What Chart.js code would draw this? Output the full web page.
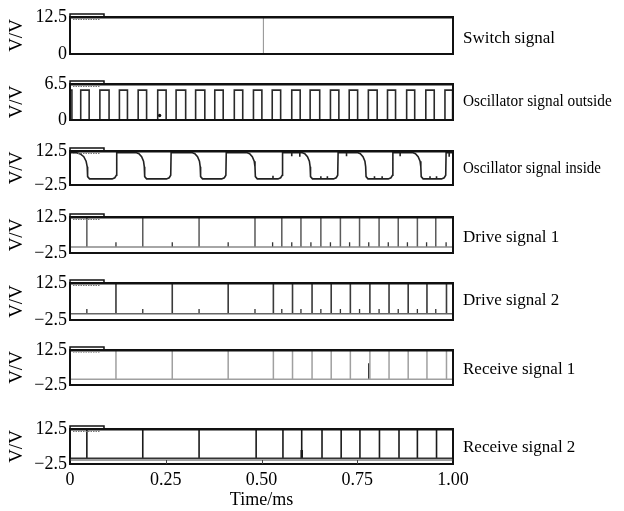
<!DOCTYPE html>
<html>
<head>
<meta charset="utf-8">
<script src="https://cdn.jsdelivr.net/npm/chart.js@4.4.0/dist/chart.umd.min.js"></script>
<style>
  html, body { margin: 0; padding: 0; background: #fff; }
  #wrap { position: relative; width: 624px; height: 511px; overflow: hidden; font-family: "Liberation Serif", serif; }
  #wrap canvas { position: absolute; left: 0; }
  .sig { position: absolute; left: 463px; font-size: 17px; line-height: 20px; color: #000; white-space: nowrap; transform-origin: left center; }
</style>
</head>
<body>
<div id="wrap"></div>
<script>
// ---- data (time in ms, level in V) ----
const signalNames = [
    'Switch signal',
    'Oscillator signal outside',
    'Oscillator signal inside',
    'Drive signal 1',
    'Drive signal 2',
    'Receive signal 1',
    'Receive signal 2'
];
const yMin = [0, 0, -2.5, -2.5, -2.5, -2.5, -2.5];
const yMax = [12.5, 6.5, 12.5, 12.5, 12.5, 12.5, 12.5];
const timeTicks = [0, 0.25, 0.5, 0.75, 1.0];

// switch signal
const switchLevel = [[0, 0], [0, 12.5], [1, 12.5]];
const switchGlitch = [[0.505, 0], [0.505, 12.5]];

// oscillator outside: square pulses
const oscOutRise = [0, 0.028, 0.078, 0.129, 0.178, 0.229, 0.277, 0.328, 0.378, 0.429, 0.479,
    0.528, 0.579, 0.627, 0.680, 0.729, 0.779, 0.829, 0.879, 0.929, 0.979];
const oscOutFall = [0.005, 0.050, 0.102, 0.150, 0.200, 0.251, 0.302, 0.352, 0.400, 0.451, 0.501,
    0.550, 0.601, 0.652, 0.702, 0.751, 0.802, 0.850, 0.900, 0.951, 0.999];
const oscOutHigh = 5.4;
const oscOutDot = [[0.234, 0.8]];

// oscillator inside: rounded falling edges, small spikes later on
const oscInside = [
    [0, 11.8], [0.015, 11.8], [0.027, 11.2], [0.036, 10.0], [0.042, 8.0], [0.045, 5.5], [0.046, 1.2], [0.051, 0.2],
    [0.110, 0.2], [0.117, 0.7], [0.121, 1.8], [0.122, 11.8],
    [0.172, 11.8], [0.180, 11.3], [0.187, 10.0], [0.192, 8.0], [0.194, 5.5], [0.195, 1.2], [0.200, 0.2],
    [0.252, 0.2], [0.259, 0.7], [0.263, 1.8], [0.264, 11.8],
    [0.318, 11.8], [0.326, 11.3], [0.333, 10.0], [0.338, 8.0], [0.340, 5.5], [0.341, 1.2], [0.346, 0.2],
    [0.396, 0.2], [0.403, 0.7], [0.407, 1.8], [0.408, 11.8],
    [0.461, 11.8], [0.469, 11.3], [0.476, 10.0], [0.481, 8.0], [0.483, 5.5], [0.484, 1.2], [0.489, 0.2],
    [0.530, 0.2], [0.530, 1.6], [0.530, 0.2],
    [0.543, 0.2], [0.550, 0.7], [0.554, 1.8], [0.555, 11.8],
    [0.579, 11.8], [0.579, 10.2], [0.579, 11.8], [0.600, 11.8], [0.600, 10.0], [0.600, 11.8],
    [0.605, 11.8], [0.613, 11.3], [0.620, 10.0], [0.625, 8.0], [0.627, 5.5], [0.628, 1.2], [0.633, 0.2],
    [0.655, 0.2], [0.655, 1.4], [0.655, 0.2], [0.672, 0.2], [0.672, 1.4], [0.672, 0.2],
    [0.688, 0.2], [0.695, 0.7], [0.699, 1.8], [0.700, 11.8],
    [0.722, 11.8], [0.722, 10.2], [0.722, 11.8],
    [0.750, 11.8], [0.758, 11.3], [0.765, 10.0], [0.770, 8.0], [0.772, 5.5], [0.773, 1.2], [0.778, 0.2],
    [0.795, 0.2], [0.795, 1.4], [0.795, 0.2], [0.815, 0.2], [0.815, 1.4], [0.815, 0.2],
    [0.831, 0.2], [0.838, 0.7], [0.842, 1.8], [0.843, 11.8],
    [0.862, 11.8], [0.862, 10.2], [0.862, 11.8],
    [0.894, 11.8], [0.902, 11.3], [0.909, 10.0], [0.914, 8.0], [0.916, 5.5], [0.917, 1.2], [0.922, 0.2],
    [0.940, 0.2], [0.940, 1.4], [0.940, 0.2], [0.957, 0.2], [0.957, 1.4], [0.957, 0.2],
    [0.970, 0.2], [0.977, 0.7], [0.981, 1.8], [0.982, 11.8],
    [0.990, 11.8], [0.990, 10.0], [0.990, 11.8], [1.0, 11.8]
];

// drive / receive pulse times
const drive1Tall = [0.044, 0.190, 0.337, 0.483, 0.553, 0.603, 0.655, 0.706, 0.756, 0.807, 0.857, 0.907, 0.955];
const drive1Small = [0.120, 0.267, 0.413, 0.529, 0.579, 0.629, 0.680, 0.730, 0.780, 0.831, 0.881, 0.931, 0.982];
const drive2Tall = [0.120, 0.267, 0.413, 0.531, 0.581, 0.632, 0.682, 0.732, 0.783, 0.833, 0.883, 0.932, 0.983];
const drive2Small = [0.044, 0.190, 0.337, 0.483, 0.553, 0.603, 0.655, 0.706, 0.756, 0.807, 0.857, 0.907, 0.955];
const receive1Tall = [0.120, 0.267, 0.413, 0.531, 0.581, 0.632, 0.682, 0.732, 0.783, 0.833, 0.883, 0.932, 0.983];
const receive1Mark = [[0.780, 0], [0.780, 6.8]];
const receive2Tall = [0.044, 0.190, 0.337, 0.486, 0.556, 0.605, 0.658, 0.708, 0.757, 0.808, 0.859, 0.907, 0.957];
const receive2Mark = [[0.605, 0], [0.605, 3.5]];
const pulseTop = 12.5;
const tickTop = 2;

// ---- layout of the stacked panels (page pixels) ----
const panelTop = [17, 84, 151, 217, 283, 350, 429];
const panelHeight = [37, 36, 34, 36, 37, 35, 35];
const labelY = [38, 101, 168, 237, 300, 369, 447];
const labelSqueeze = [1, 0.9, 0.88, 1, 1, 1, 1];

const FONT = 'Liberation Serif';
const INK = '#000';

function pts(pairs) {
    return pairs.map(p => ({ x: p[0], y: p[1] }));
}

function squareWave(rises, falls, high) {
    const out = [{ x: 0, y: 0 }];
    rises.forEach((r, i) => {
        out.push({ x: r, y: 0 }, { x: r, y: high }, { x: falls[i], y: high }, { x: falls[i], y: 0 });
    });
    out.push({ x: 1, y: 0 });
    return out;
}

// vertical spikes from the zero line, separated by gaps
function spikes(times, top) {
    const out = [];
    times.forEach(t => {
        out.push({ x: t, y: 0 }, { x: t, y: top }, { x: t, y: null });
    });
    return out;
}

function line(data, color, width) {
    return {
        data: data,
        borderColor: color,
        borderWidth: width || 1.5,
        pointRadius: 0,
        fill: false,
        tension: 0,
        clip: false
    };
}

const baseline = [{ x: 0, y: 0 }, { x: 1, y: 0 }];

const panelData = [
    [line(pts(switchLevel), '#111', 2), line(pts(switchGlitch), '#999', 1.1)],
    [line(squareWave(oscOutRise, oscOutFall, oscOutHigh), '#2a2a2a', 1.6),
     { type: 'scatter', data: pts(oscOutDot), pointRadius: 1.7, backgroundColor: '#111', borderWidth: 0 }],
    [line(pts(oscInside), '#222', 1.6)],
    [line(baseline, '#888', 1.5), line(spikes(drive1Tall, pulseTop), '#5a5a5a', 1.5), line(spikes(drive1Small, tickTop), '#333', 1.3)],
    [line(baseline, '#666', 1.5), line(spikes(drive2Tall, pulseTop), '#3a3a3a', 1.6), line(spikes(drive2Small, tickTop), '#333', 1.3)],
    [line(baseline, '#a0a0a0', 1.5), line(spikes(receive1Tall, pulseTop), '#a0a0a0', 1.5), line(pts(receive1Mark), '#333', 1.4)],
    [line(baseline, '#333', 1.5), line(spikes(receive2Tall, pulseTop), '#1a1a1a', 1.6), line(pts(receive2Mark), '#111', 2.5)]
];

// frame box, small label tab, and the inner time-axis strip on the last panel
const framePlugin = {
    id: 'frame',
    afterDatasetsDraw(chart, args, opts) {
        const { ctx, chartArea: a } = chart;
        ctx.save();
        ctx.strokeStyle = '#111';
        ctx.lineWidth = 2;
        ctx.strokeRect(a.left, a.top, a.right - a.left, a.bottom - a.top);
        // top edge is a bit heavier in the scope shot
        ctx.beginPath();
        ctx.moveTo(a.left, a.top + 0.5);
        ctx.lineTo(a.right, a.top + 0.5);
        ctx.stroke();
        ctx.lineWidth = 1.5;
        ctx.beginPath();
        ctx.moveTo(a.left, a.top);
        ctx.lineTo(a.left, a.top - 3);
        ctx.lineTo(a.left + 34, a.top - 3);
        ctx.lineTo(a.left + 34, a.top);
        ctx.stroke();
        ctx.setLineDash([1.5, 1]);
        ctx.lineWidth = 1.2;
        ctx.strokeStyle = opts.tabColor || '#888';
        ctx.beginPath();
        ctx.moveTo(a.left + 3, a.top + 2.5);
        ctx.lineTo(a.left + 30, a.top + 2.5);
        ctx.stroke();
        ctx.setLineDash([]);
        if (opts.axisStrip) {
            const x = chart.scales.x;
            const yStrip = a.bottom - 4;
            ctx.strokeStyle = '#444';
            ctx.lineWidth = 1;
            ctx.beginPath();
            ctx.moveTo(a.left, yStrip);
            ctx.lineTo(a.right, yStrip);
            timeTicks.slice(1, -1).forEach(v => {
                const px = Math.round(x.getPixelForValue(v)) + 0.5;
                ctx.moveTo(px, yStrip);
                ctx.lineTo(px, a.bottom);
            });
            ctx.stroke();
        }
        ctx.restore();
    }
};

function makePanel(i) {
    const last = i === signalNames.length - 1;
    const padTop = 14;
    const axisH = 47;
    const h = last ? padTop + panelHeight[i] + axisH : panelHeight[i] + 28;

    const canvas = document.createElement('canvas');
    canvas.width = 480;
    canvas.height = h;
    canvas.style.width = '480px';
    canvas.style.height = h + 'px';
    canvas.style.top = (panelTop[i] - padTop) + 'px';
    document.getElementById('wrap').appendChild(canvas);

    const label = document.createElement('div');
    label.className = 'sig';
    label.textContent = signalNames[i];
    label.style.top = (labelY[i] - 10) + 'px';
    label.style.transform = 'scaleX(' + labelSqueeze[i] + ')';
    document.getElementById('wrap').appendChild(label);

    new Chart(canvas.getContext('2d'), {
        type: 'line',
        data: { datasets: panelData[i] },
        options: {
            responsive: false,
            animation: false,
            devicePixelRatio: 1,
            layout: { padding: { left: 0, right: 27, top: padTop, bottom: last ? 0 : 14 } },
            plugins: {
                legend: { display: false },
                tooltip: { enabled: false },
                frame: { tabColor: i === 5 ? '#aaa' : '#777', axisStrip: last }
            },
            scales: {
                x: {
                    type: 'linear',
                    min: 0,
                    max: 1,
                    display: last,
                    grid: { display: false, drawTicks: false },
                    border: { display: false },
                    afterBuildTicks: axis => { axis.ticks = timeTicks.map(v => ({ value: v })); },
                    afterFit: scale => { if (last) scale.height = axisH; },
                    ticks: {
                        padding: 5,
                        autoSkip: false,
                        maxRotation: 0,
                        color: INK,
                        font: { family: FONT, size: 18 },
                        callback: v => v === 0 ? '0' : v.toFixed(2)
                    },
                    title: {
                        display: true,
                        text: 'Time/ms',
                        color: INK,
                        font: { family: FONT, size: 18 },
                        padding: { top: 0, bottom: 0 }
                    }
                },
                y: {
                    min: yMin[i],
                    max: yMax[i],
                    grid: { display: false, drawTicks: false },
                    border: { display: false },
                    afterBuildTicks: axis => { axis.ticks = [{ value: yMin[i] }, { value: yMax[i] }]; },
                    afterFit: scale => { scale.width = 70; },
                    ticks: {
                        padding: 3,
                        color: INK,
                        font: { family: FONT, size: 18 },
                        callback: v => v < 0 ? '\u2212' + Math.abs(v) : String(v)
                    },
                    title: {
                        display: true,
                        text: 'V/V',
                        color: INK,
                        font: { family: FONT, size: 19 },
                        padding: { top: 6, bottom: 0 }
                    }
                }
            }
        },
        plugins: [framePlugin]
    });
}

signalNames.forEach((name, i) => makePanel(i));
</script>
</body>
</html>
